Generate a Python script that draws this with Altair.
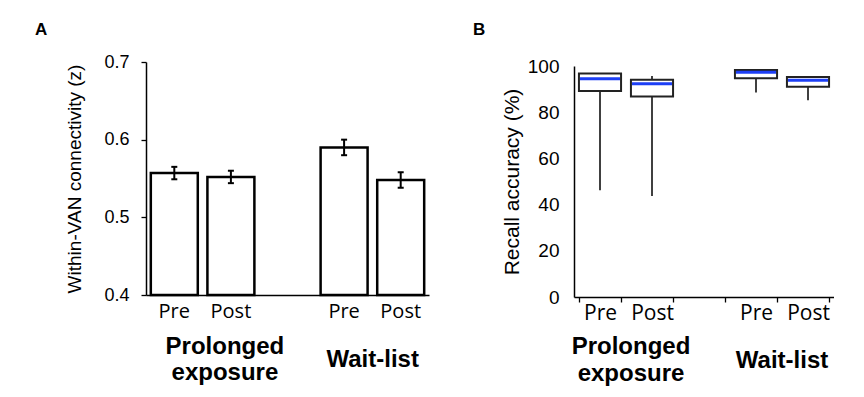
import altair as alt
import pandas as pd

# ---------------- data ----------------
slots = ["Pre1", "Post1", "gap", "Pre2", "Post2"]
bar_slots = ["Pre1", "Post1", "Pre2", "Post2"]

# Panel A: within-VAN connectivity (mean, s.e.m.)
conn_mean = [0.557, 0.552, 0.590, 0.548]
conn_sem = [0.008, 0.008, 0.010, 0.010]

# Panel B: recall accuracy (%) box summaries
recall_lo = [46.2, 43.7, 88.5, 85.2]
recall_q1 = [89.2, 86.8, 94.7, 91.0]
recall_med = [94.5, 92.3, 97.3, 93.8]
recall_q3 = [96.7, 94.1, 98.3, 95.2]
recall_hi = [96.7, 95.7, 98.3, 95.2]

group_line1 = ["Prolonged", "Wait-list"]
group_line2 = ["exposure", ""]
group_slots = ["Post1", "Post2"]

dfA = pd.DataFrame({"slot": bar_slots, "mean": conn_mean, "sem": conn_sem})
dfA["lo"] = dfA["mean"] - dfA["sem"]
dfA["hi"] = dfA["mean"] + dfA["sem"]
dfA["base"] = 0.4

dfB = pd.DataFrame({"slot": bar_slots, "lo": recall_lo, "q1": recall_q1,
                    "med": recall_med, "q3": recall_q3, "hi": recall_hi})

dfG1 = pd.DataFrame({"slot": [group_slots[0]], "l1": [group_line1[0]], "l2": [group_line2[0]]})
dfG2 = pd.DataFrame({"slot": [group_slots[1]], "l1": [group_line1[1]]})

label_expr = ("datum.value == 'Pre1' || datum.value == 'Pre2' ? 'Pre' : "
              "(datum.value == 'Post1' || datum.value == 'Post2' ? 'Post' : '')")
BLUE = "#1d3ff5"

# ---------------- panel A ----------------
xA_scale = alt.Scale(domain=slots, paddingInner=0.17, paddingOuter=0.085)
xA_axis = alt.Axis(title=None, labelAngle=0, labelExpr=label_expr, ticks=False,
                   labelFont="Open Sans", labelFontSize=20, labelColor="black",
                   domainColor="black", domainWidth=1.5, labelPadding=6)
yA_scale = alt.Scale(domain=[0.4, 0.7], zero=False, nice=False)
yA_axis = alt.Axis(values=[0.4, 0.5, 0.6, 0.7], format=".1f",
                   title="Within-VAN connectivity (z)", titleFont="Liberation Sans",
                   titleFontSize=19, titleFontWeight="normal", titleColor="black",
                   labelFont="Liberation Sans", labelFontSize=18, labelColor="black",
                   tickSize=5, tickColor="black", tickWidth=1.3, domainColor="black",
                   domainWidth=1.5, labelPadding=12, titlePadding=19, grid=False)


def xa():
    return alt.X("slot:N", scale=xA_scale, axis=xA_axis)


def ya(field):
    return alt.Y(f"{field}:Q", scale=yA_scale, axis=yA_axis)


baseA = alt.Chart(dfA)
barsA = baseA.mark_bar(fill="white", stroke="black", strokeWidth=2.5, opacity=1).encode(
    x=xa(), y=ya("mean"), y2="base:Q")
errA = baseA.mark_rule(color="black", strokeWidth=2, opacity=1).encode(
    x=xa(), y=ya("lo"), y2="hi:Q")
capLoA = baseA.mark_tick(color="black", size=6, thickness=2, opacity=1).encode(
    x=xa(), y=ya("lo"))
capHiA = baseA.mark_tick(color="black", size=6, thickness=2, opacity=1).encode(
    x=xa(), y=ya("hi"))

labA = alt.Chart(pd.DataFrame({"t": ["A"]})).mark_text(
    align="left", baseline="alphabetic", font="Liberation Sans", fontWeight="bold",
    fontSize=17, color="black").encode(text="t:N", x=alt.value(-111), y=alt.value(-27))

gtxt = dict(align="center", baseline="alphabetic", font="Liberation Sans",
            fontWeight="bold", fontSize=24, color="black")
grpA1a = alt.Chart(dfG1).mark_text(dx=-6, **gtxt).encode(
    x=xa(), text="l1:N", y=alt.value(292))
grpA1b = alt.Chart(dfG1).mark_text(dx=-6, **gtxt).encode(
    x=xa(), text="l2:N", y=alt.value(318))
grpA2 = alt.Chart(dfG2).mark_text(dx=-28, **gtxt).encode(
    x=xa(), text="l1:N", y=alt.value(305))

panelA = alt.layer(barsA, errA, capLoA, capHiA, labA, grpA1a, grpA1b, grpA2).properties(
    width=283, height=233)

# ---------------- panel B ----------------
# plot area is 4px taller than the y range so that the axis starts lower than panel A's
xB_scale = alt.Scale(domain=slots, paddingInner=0.19, paddingOuter=0.095)
xB_axis = alt.Axis(title=None, labelAngle=0, labelExpr=label_expr, ticks=True,
                   tickBand="extent", tickSize=5, tickColor="black", tickWidth=1.3,
                   labelFont="Open Sans", labelFontSize=21, labelColor="black",
                   domainColor="black", domainWidth=1.5, labelPadding=0)
yB_scale = alt.Scale(domain=[0, 100], nice=False, range=[235, 4])
yB_axis = alt.Axis(values=[0, 20, 40, 60, 80, 100], title="Recall accuracy (%)",
                   titleFont="Liberation Sans", titleFontSize=21, titleFontWeight="normal",
                   titleColor="black", labelFont="Liberation Sans", labelFontSize=19,
                   labelColor="black", ticks=False, domainColor="black", domainWidth=1.5,
                   labelPadding=15, titlePadding=5, grid=False)


def xb():
    return alt.X("slot:N", scale=xB_scale, axis=xB_axis)


def yb(field):
    return alt.Y(f"{field}:Q", scale=yB_scale, axis=yB_axis)


baseB = alt.Chart(dfB)
whB = baseB.mark_rule(color="black", strokeWidth=1.5, opacity=1).encode(
    x=xb(), y=yb("lo"), y2="hi:Q")
boxB = baseB.mark_bar(fill="white", stroke="#222222", strokeWidth=2, opacity=1).encode(
    x=xb(), y=yb("q1"), y2="q3:Q")
medB = baseB.mark_tick(color=BLUE, size=40, thickness=3, opacity=1).encode(
    x=xb(), y=yb("med"))

labB = alt.Chart(pd.DataFrame({"t": ["B"]})).mark_text(
    align="left", baseline="alphabetic", font="Liberation Sans", fontWeight="bold",
    fontSize=17, color="black").encode(text="t:N", x=alt.value(-101), y=alt.value(-27))

grpB1a = alt.Chart(dfG1).mark_text(dx=-21, **gtxt).encode(
    x=xb(), text="l1:N", y=alt.value(292))
grpB1b = alt.Chart(dfG1).mark_text(dx=-21, **gtxt).encode(
    x=xb(), text="l2:N", y=alt.value(319))
grpB2 = alt.Chart(dfG2).mark_text(dx=-26, **gtxt).encode(
    x=xb(), text="l1:N", y=alt.value(306))

panelB = alt.layer(whB, boxB, medB, labB, grpB1a, grpB1b, grpB2).properties(
    width=260, height=235)

chart = alt.hconcat(panelA, panelB, spacing=44).properties(
    padding={"left": 27, "top": 13, "right": 0, "bottom": 0},
    background="white",
).configure_view(stroke=None)

chart.save("out.html", embed_options={"renderer": "svg", "actions": False})
